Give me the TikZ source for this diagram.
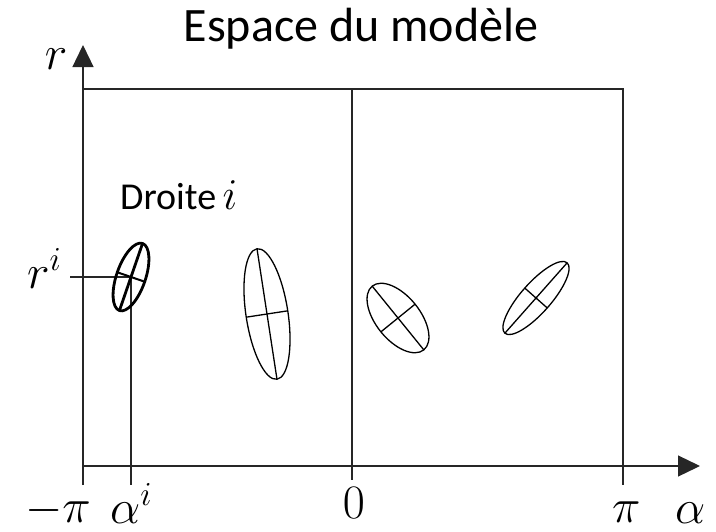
\RequirePackage{fix-cm}
\documentclass[tikz,border=0pt]{standalone}
\usepackage[no-math]{fontspec}
\setmainfont{Carlito}
\usetikzlibrary{arrows.meta}
\tikzset{
  axisline/.style={line width=1.3pt, draw=black!85},
  thinline/.style={line width=1.2pt, draw=black!85},
  ell/.style={line width=1.3pt},
  ellthick/.style={line width=2.8pt},
  mathlbl/.style={inner sep=0pt, font=\fontsize{48}{56}\selectfont},
  txtlbl/.style={inner sep=0pt},
  tip/.style={-{Triangle[length=22pt,width=21pt]}}
}
\begin{document}
\begin{tikzpicture}[x=1pt,y=-1pt]
\useasboundingbox (0,0) rectangle (716,531);
% coordinates
\coordinate (o) at (83,466);
\coordinate (ybot) at (83,485);
\coordinate (ytop) at (83,45);
\coordinate (xend) at (700,466);
\coordinate (tl) at (83,89);
\coordinate (tr) at (623,89);
\coordinate (rb) at (623,485);
\coordinate (mt) at (352,89);
\coordinate (mb) at (352,480);
\coordinate (c1) at (131,277);
\coordinate (rl) at (70,277);
\coordinate (ab) at (131,485);
% axes
\draw[axisline,tip] (ybot) -- (ytop);
\draw[axisline,tip] (o) -- (xend);
\draw[thinline] (tl) -- (tr) -- (rb);
\draw[thinline] (mt) -- (mb);
\draw[thinline] (rl) -- (c1) -- (ab);
% ellipses
\begin{scope}[shift={(c1)}, rotate=71]
  \draw[ellthick] (0,0) ellipse [x radius=35.5, y radius=14.5];
  \draw[ellthick] (-35.5,0) -- (35.5,0);
  \draw[line width=2pt] (0,-14.5) -- (0,14.5);
\end{scope}
\begin{scope}[shift={(267,314)}, rotate=98.7]
  \draw[ell] (0,0) ellipse [x radius=66, y radius=21];
  \draw[ell] (-66,0) -- (66,0);
  \draw[ell] (0,-21) -- (0,21);
\end{scope}
\begin{scope}[shift={(398,318)}, rotate=129]
  \draw[ell] (0,0) ellipse [x radius=41, y radius=22];
  \draw[ell] (-41,0) -- (41,0);
  \draw[ell] (0,-22) -- (0,22);
\end{scope}
\begin{scope}[shift={(536,298)}, rotate=48.5]
  \draw[ell] (0,0) ellipse [x radius=47, y radius=15];
  \draw[ell] (-47,0) -- (47,0);
  \draw[ell] (0,-15) -- (0,15);
\end{scope}
% labels
\node[txtlbl, anchor=base, font=\fontsize{48}{56}\selectfont] (title) at (361,41) {Espace du modèle};
\node[txtlbl, anchor=base west, font=\fontsize{38}{44}\selectfont] (droite) at (120,209) {Droite\,\fontsize{44}{52}\selectfont$i$};
\node[mathlbl, anchor=base] (rlab) at (56,69) {$r$};
\node[mathlbl, anchor=base west] (rilab) at (27,288) {$r^i$};
\node[mathlbl, anchor=base east] (mpi) at (91,522) {$-\pi$};
\node[mathlbl, anchor=base west] (ailab) at (110,523) {$\alpha^i$};
\node[mathlbl, anchor=base] (zero) at (354,518) {$0$};
\node[mathlbl, anchor=base west] (ppi) at (612,522) {$\pi$};
\node[mathlbl, anchor=base west] (alab) at (675,523) {$\alpha$};
\end{tikzpicture}
\end{document}
